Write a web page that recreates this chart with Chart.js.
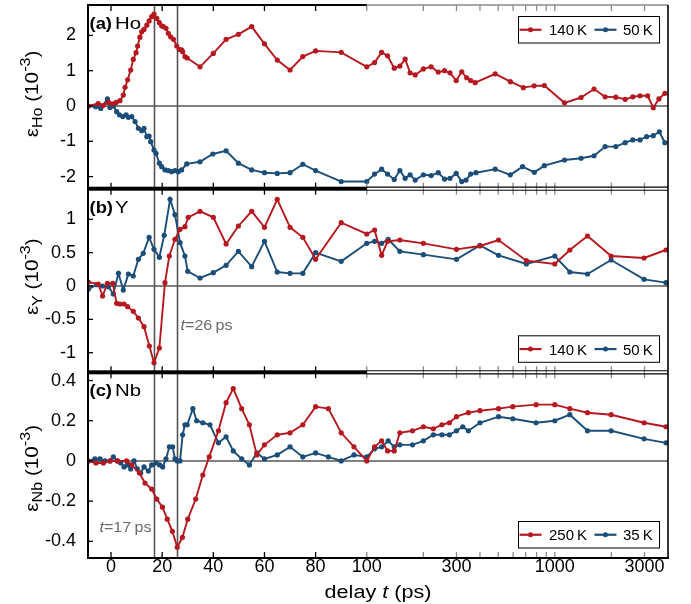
<!DOCTYPE html>
<html><head><meta charset="utf-8">
<script src="https://cdn.jsdelivr.net/npm/chart.js@4.4.1/dist/chart.umd.min.js"></script>
<style>html,body{margin:0;padding:0;background:#fff;overflow:hidden}canvas{display:block}</style>
</head><body>
<canvas id="c" width="691" height="604" style="width:691px;height:604px"></canvas>
<script>
// ---------- data (delay in ps, strain in 10^-3) ----------
const delayHo140 = [-8.9,-5,-3,-1,0.5,2,3.5,4.8,5.5,6.5,7.7,8.7,9.8,10.4,11.3,12,12.9,14,14.9,15.9,16.8,17.9,18.9,19.8,20.5,21.5,22.4,23.3,24.4,25.7,26.7,27.6,28,28.9,29.8,34.8,40,45,49.8,55,60,65,70,75,80,90,100,110,120,129,140,150,160,170,181,200,220,240,259,277,299,320,340,357,377,482,580,680,776,880,1126,1379,1617,1852,2111,2368,2600,2840,3118,3340,3580,3850];
const strainHo140 = [0,0.07,0.02,0.1,0.06,0.1,0.15,0.31,0.53,0.74,1.02,1.32,1.51,1.7,1.95,2.1,2.17,2.29,2.41,2.53,2.6,2.48,2.36,2.27,2.25,2.2,2.06,1.96,1.89,1.7,1.6,1.59,1.54,1.4,1.36,1.11,1.49,1.89,2.03,2.25,1.76,1.3,1.02,1.4,1.56,1.52,1.11,1.23,1.52,1.42,1.07,1.13,1.33,0.94,0.88,1.05,1.11,0.96,1.0,0.94,0.72,0.97,0.8,0.72,0.66,0.91,0.69,0.52,0.57,0.58,0.09,0.24,0.48,0.26,0.25,0.19,0.26,0.29,0.29,-0.05,0.2,0.36];
const delayHo50 = [-8.9,-6,-4,-1.4,-0.4,1,2.2,3.3,4.6,5.9,6.8,8.1,9.4,10.7,12,12.9,14,14.9,15.5,16.8,17.6,18.9,19.8,21.1,22.4,23.7,25,26.3,27.6,29.6,34.8,39.8,45,49.8,55,60,65,70,75,80,90,100,110,120,129,140,150,160,170,181,200,220,240,259,277,299,320,337,357,381,482,580,674,778,880,1126,1379,1617,1852,2111,2368,2600,2840,3080,3340,3600,3850];
const strainHo50 = [0,-0.02,-0.07,0.2,-0.04,0.0,-0.16,-0.25,-0.3,-0.25,-0.32,-0.3,-0.44,-0.63,-0.7,-0.63,-0.87,-0.85,-1.01,-1.25,-1.34,-1.62,-1.72,-1.81,-1.83,-1.86,-1.83,-1.86,-1.81,-1.64,-1.58,-1.36,-1.27,-1.62,-1.81,-1.89,-1.91,-1.89,-1.65,-1.83,-2.14,-2.14,-1.93,-1.79,-1.93,-2.08,-1.83,-2.05,-1.95,-2.1,-1.95,-1.97,-1.89,-2.07,-2.05,-1.91,-2.14,-2.1,-1.93,-1.89,-1.79,-1.95,-1.72,-1.88,-1.69,-1.53,-1.48,-1.41,-1.15,-1.15,-1.04,-0.96,-0.96,-0.87,-0.84,-0.73,-1.04];

const delayY140 = [-8.9,-5,-3.3,-1.4,0.7,2.2,3.5,5.1,6.5,8.7,10.7,12.9,15,16.8,18.9,21.1,22.8,25,27,28.9,30.2,34.8,40,45,49.8,55,60,65,70,75,80,90,100,110,120,129,150,200,300,400,502,706,1000,1202,1493,1993,2984,3900];
const strainY140 = [0.06,0.03,-0.15,0.04,0.04,-0.26,-0.27,-0.27,-0.31,-0.38,-0.48,-0.61,-0.9,-1.15,-0.93,0.05,0.45,0.7,0.85,0.89,1.03,1.12,1.03,0.63,0.9,1.12,0.88,1.3,0.88,0.73,0.4,0.95,0.78,0.84,0.46,0.67,0.69,0.64,0.55,0.6,0.69,0.38,0.33,0.54,0.75,0.45,0.42,0.54];
const delayY50 = [-8.9,-5.6,-3.3,-1,0.9,2.9,4.8,6.8,8.7,10.7,12.6,14.9,16.8,18.9,20.8,23.1,25,27,28.9,30,34.8,40,45,49.8,55,60,65,70,75,80,90,100,110,120,130,150,200,300,400,502,706,1000,1202,1493,1993,2984,3900];
const strainY50 = [-0.05,0.02,0,-0.01,-0.12,0.19,-0.06,0.18,0.15,0.4,0.49,0.73,0.55,0.43,0.76,1.3,1.07,0.65,0.45,0.22,0.12,0.2,0.31,0.52,0.29,0.67,0.21,0.19,0.19,0.5,0.37,0.64,0.67,0.64,0.7,0.52,0.47,0.4,0.61,0.46,0.33,0.45,0.21,0.18,0.39,0.1,0.05];

const delayNb250 = [-8.9,-5.9,-3,-0.4,2.5,6.1,8.1,11.1,13.3,15.9,17.9,20.1,22,24,25.9,27.9,30,33.1,35.9,38.4,42,45,47.8,51.1,54.1,57,60,65,70,75,80,85,90,95,100,110,120,129,140,150,175,200,226,251,275,300,347,400,502,598,795,1000,1202,1493,1993,2984,3900];
const strainNb250 = [0,-0.01,-0.01,0,0,0,-0.02,-0.06,-0.11,-0.14,-0.19,-0.23,-0.29,-0.35,-0.43,-0.38,-0.29,-0.19,-0.07,0.02,0.15,0.29,0.36,0.26,0.18,0.03,0.08,0.13,0.14,0.18,0.27,0.26,0.14,0.07,0,0.07,0.1,0.05,0.05,0.14,0.15,0.17,0.16,0.18,0.19,0.22,0.24,0.25,0.26,0.27,0.28,0.28,0.26,0.24,0.23,0.19,0.17];
const delayNb35 = [-8.9,-6.3,-4.3,-2.3,-0.4,0.9,2.5,3.8,5.1,6.4,7.7,9,10.3,11.6,12.9,14.6,15.9,17.6,19,20.2,21.5,22.8,24.1,25,25.9,27,28,28.9,29.8,32,33.5,35.9,38.7,42,45,47.8,51.1,54.1,57,60,65,70,75,80,85,90,95,100,110,120,130,140,150,175,200,226,251,275,300,324,347,400,502,598,795,1000,1202,1493,1993,2984,3900];
const strainNb35 = [0,0.01,0.01,0,0,0.02,0,-0.01,-0.03,-0.02,-0.04,0.0,-0.04,-0.06,-0.03,-0.05,-0.02,-0.01,-0.02,-0.03,0.01,0.07,0.07,0.01,0,0,0.13,0.18,0.18,0.26,0.2,0.19,0.18,0.09,0.12,0.05,0.01,-0.02,0.04,0.01,0.03,0.07,0.02,0.04,0.02,0,0.03,0.02,0.06,0.07,0.1,0.07,0.08,0.08,0.1,0.13,0.13,0.13,0.15,0.17,0.15,0.19,0.22,0.21,0.19,0.2,0.23,0.15,0.15,0.11,0.09];

const xTickTimes = [0,20,40,60,80,100,300,1000,3000];
const xTickLabels = ['0','20','40','60','80','100','300','1000','3000'];
const xMinorTimes = [200,400,500,600,700,800,900,2000];
const yTicksHo = [-2,-1,0,1,2];
const yTicksY = [-1,-0.5,0,0.5,1];
const yTicksNb = [-0.4,-0.2,0,0.2,0.4];
const markerTimes = [17,26];

// ---------- axis transform: linear to 100 ps, logarithmic beyond ----------
const LIN_END = 100, DECADE = 73.52, X_MIN = -9, X_MAX_T = 4000;
function tx(t){ return t <= LIN_END ? t : LIN_END + DECADE*Math.log10(t/LIN_END); }
function pts(ts, vs){ return ts.map((t,i)=>({x:tx(t), y:vs[i]})); }

const FAM = "'Liberation Sans', Arial, Helvetica, sans-serif";
const RED = '#b5191f', BLUE = '#1a4d78';

const panels = [
  {id:'ya', min:-2.343, max:2.861, ticks:yTicksHo, w:183.7, tag:'(a)', name:'Ho', sub:'Ho', legendTop:true, titleOff:89,
   series:[{label:'140\u2009K', color:RED, t:delayHo140, v:strainHo140},{label:'50\u2009K', color:BLUE, t:delayHo50, v:strainHo50}]},
  {id:'yb', min:-1.294, max:1.459, ticks:yTicksY, w:183.6, tag:'(b)', name:'Y', sub:'Y', legendTop:false, titleOff:88,
   series:[{label:'140\u2009K', color:RED, t:delayY140, v:strainY140},{label:'50\u2009K', color:BLUE, t:delayY50, v:strainY50}]},
  {id:'yc', min:-0.483, max:0.441, ticks:yTicksNb, w:185.7, tag:'(c)', name:'Nb', sub:'Nb', legendTop:false, titleOff:96,
   series:[{label:'250\u2009K', color:RED, t:delayNb250, v:strainNb250},{label:'35\u2009K', color:BLUE, t:delayNb35, v:strainNb35}]}
];

const datasets = [];
panels.forEach(p=>p.series.forEach(s=>datasets.push({
  label:s.label, data:pts(s.t, s.v), yAxisID:p.id,
  borderColor:s.color, backgroundColor:s.color, pointBackgroundColor:s.color, pointBorderColor:s.color,
  pointBorderWidth:0, pointRadius:2.6, borderWidth:1.9, tension:0, fill:false
})));

function noPad(s){ s.paddingTop = 0; s.paddingBottom = 0; s.paddingLeft = 0; s.paddingRight = 0; }

const scales = {
  x: {type:'linear', position:'bottom', min:X_MIN, max:tx(X_MAX_T),
      afterBuildTicks: s=>{ s.ticks = xTickTimes.map(t=>({value:tx(t)})); },
      afterFit: s=>{ s.height = 46; noPad(s); },
      grid:{display:false, drawTicks:false}, border:{display:false},
      ticks:{autoSkip:false, maxRotation:0, minRotation:0, padding:0, color:'#000', font:{family:FAM, size:18, lineHeight:1},
             callback:(v,i)=>xTickLabels[i]}}
};
panels.forEach((p,i)=>{
  scales[p.id] = {type:'linear', position:'left', stack:'panels', stackWeight:p.w, weight:3-i,
    min:p.min, max:p.max,
    afterBuildTicks: s=>{ s.ticks = p.ticks.map(v=>({value:v})); },
    afterFit: s=>{ s.width = 88; noPad(s); },
    grid:{display:false, drawTicks:false}, border:{display:false},
    ticks:{padding:12, color:'#000', font:{family:FAM, size:18}, callback:v=>String(v)}};
});

function line(ctx,x1,y1,x2,y2){ ctx.beginPath(); ctx.moveTo(x1,y1); ctx.lineTo(x2,y2); ctx.stroke(); }
// draws mixed-style text; sx stretches the glyphs along the baseline
function rich(ctx, parts, x, y, align, sx){
  sx = sx || 1;
  let w = 0;
  parts.forEach(p=>{ ctx.font = p.f; w += ctx.measureText(p.t).width; });
  const start = align==='center' ? x - w*sx/2 : align==='right' ? x - w*sx : x;
  ctx.save(); ctx.translate(start, y); ctx.scale(sx, 1);
  ctx.textAlign = 'left'; ctx.textBaseline = 'alphabetic';
  let cx = 0;
  parts.forEach(p=>{ ctx.font = p.f; ctx.fillStyle = p.c || '#000'; ctx.fillText(p.t, cx, p.dy||0); cx += ctx.measureText(p.t).width; });
  ctx.restore();
}

const deco = {
  id:'deco',
  beforeDatasetsDraw(chart){
    const ctx = chart.ctx, ca = chart.chartArea, xs = chart.scales.x;
    ctx.save();
    ctx.strokeStyle = '#808080'; ctx.lineWidth = 2;
    panels.forEach(p=>{ const y = chart.scales[p.id].getPixelForValue(0); line(ctx, ca.left, y, ca.right, y); });
    ctx.strokeStyle = '#555'; ctx.lineWidth = 1.6;
    markerTimes.forEach(t=>{ const x = xs.getPixelForValue(tx(t)); line(ctx, x, ca.top, x, ca.bottom); });
    ctx.restore();
  },
  afterDraw(chart){
    const ctx = chart.ctx, ca = chart.chartArea, xs = chart.scales.x;
    const L = ca.left, R = ca.right, xb = xs.getPixelForValue(tx(LIN_END));
    const X = t => xs.getPixelForValue(tx(t));
    ctx.save();
    // inward ticks on every panel
    panels.forEach(p=>{
      const s = chart.scales[p.id];
      xTickTimes.concat(xMinorTimes).forEach(t=>{
        const x = X(t);
        ctx.strokeStyle = t >= LIN_END ? '#8a8a8a' : '#000'; ctx.lineWidth = 1.3;
        line(ctx, x, s.top, x, s.top+6); line(ctx, x, s.bottom, x, s.bottom-6);
      });
      ctx.strokeStyle = '#000'; ctx.lineWidth = 1.3;
      p.ticks.forEach(v=>{ const y = s.getPixelForValue(v); line(ctx, L, y, L+5, y); });
    });
    // frames
    const sa = chart.scales.ya, sb = chart.scales.yb, sc = chart.scales.yc;
    ctx.strokeStyle = '#000'; ctx.lineWidth = 2;
    line(ctx, L-1, sa.top, xb, sa.top);
    ctx.strokeStyle = '#8a8a8a'; ctx.lineWidth = 1.5; line(ctx, xb, sa.top, R, sa.top);
    ctx.fillStyle = '#000';
    [sa.bottom, sb.bottom].forEach(y=>{
      ctx.fillRect(L-1, y-2, xb-L+1, 4);
      ctx.strokeStyle = '#000'; ctx.lineWidth = 1.1;
      line(ctx, xb, y-1.6, R, y-1.6); line(ctx, xb, y+1.6, R, y+1.6);
    });
    ctx.strokeStyle = '#000'; ctx.lineWidth = 2;
    line(ctx, L-1, sc.bottom, R+1, sc.bottom);
    line(ctx, L, ca.top-1, L, ca.bottom+1);
    ctx.lineWidth = 1.6; line(ctx, R, ca.top, R, ca.bottom+1);

    // texts
    panels.forEach(p=>{
      const s = chart.scales[p.id];
      rich(ctx, [{t:p.tag, f:"bold 16px "+FAM}], L+1.5, s.top+24, 'left', 1.15);
      rich(ctx, [{t:p.name, f:"17px "+FAM}], L+27, s.top+24, 'left', 1.2);
      // y title
      const cy = s.top + p.titleOff;
      ctx.save(); ctx.translate(38, cy); ctx.rotate(-Math.PI/2);
      rich(ctx, [{t:'\u03B5', f:"18px "+FAM},{t:p.sub, f:"14px "+FAM, dy:4},{t:' (10', f:"18px "+FAM},{t:'-3', f:"14px "+FAM, dy:-8},{t:')', f:"18px "+FAM}], 0, 0, 'center', 1.15);
      ctx.restore();
      // legend
      const bx = R-150, bw = 141, bh = 26.5;
      const by = p.legendTop ? s.top + 11 : s.bottom - 10.5 - bh;
      ctx.fillStyle = '#fff'; ctx.fillRect(bx, by, bw, bh);
      ctx.strokeStyle = '#000'; ctx.lineWidth = 1; ctx.strokeRect(bx+0.5, by+0.5, bw, bh);
      const my = by + bh/2 + 0.5;
      const offs = [[1.5, 31], [76.5, 105]];
      p.series.forEach((se,k)=>{
        const lx = bx + offs[k][0];
        ctx.strokeStyle = se.color; ctx.lineWidth = 2.2; line(ctx, lx, my, lx+22, my);
        ctx.fillStyle = se.color; ctx.beginPath(); ctx.arc(lx+11, my, 2.5, 0, Math.PI*2); ctx.fill();
        rich(ctx, [{t:se.label, f:"15px "+FAM}], bx + offs[k][1], my + 5.5, 'left');
      });
    });
    // annotations
    const g = '#6b6b6b';
    rich(ctx, [{t:'t', f:"italic 14px "+FAM, c:g},{t:'=26\u2009ps', f:"14px "+FAM, c:g}], X(26)+3, sb.bottom-42, 'left', 1.15);
    rich(ctx, [{t:'t', f:"italic 14px "+FAM, c:g},{t:'=17\u2009ps', f:"14px "+FAM, c:g}], X(17)-3, sc.bottom-26, 'right', 1.15);
    // x title
    rich(ctx, [{t:'delay ', f:"18px "+FAM},{t:'t', f:"italic 18px "+FAM},{t:' (ps)', f:"18px "+FAM}], (L+R)/2, 598, 'center', 1.2);
    ctx.restore();
  }
};

const chart = new Chart(document.getElementById('c'), {
  type:'line',
  data:{datasets},
  options:{responsive:false, animation:false, devicePixelRatio:1, events:[],
    layout:{padding:{left:0, right:23, top:5, bottom:0}},
    plugins:{legend:{display:false}, tooltip:{enabled:false}},
    scales},
  plugins:[deco]
});
if (chart.scales.ya.top > chart.scales.yc.top) {
  panels.forEach((p,i)=>{ chart.options.scales[p.id].weight = i+1; });
  chart.update();
}
</script>
</body></html>
